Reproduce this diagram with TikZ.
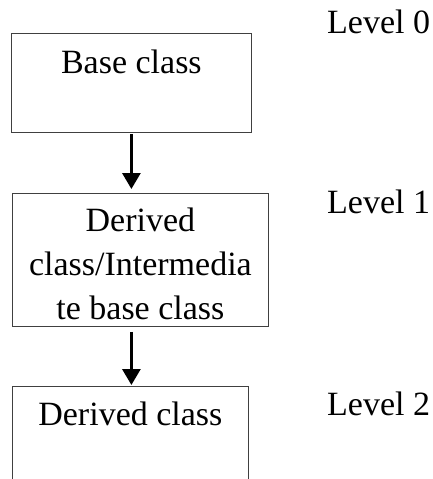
\documentclass[tikz,border=0pt]{standalone}
\usepackage{fontspec}
\setmainfont{Liberation Serif}
\usetikzlibrary{positioning,arrows.meta}
\definecolor{BoxEdge}{RGB}{64,64,64}
\tikzset{
  classbox/.style={draw=BoxEdge,line width=0.8pt,inner sep=0pt,anchor=north west,
    align=flush center,font=\fontsize{34}{44}\selectfont},
  levellabel/.style={inner sep=0pt,anchor=base west,font=\fontsize{34}{44}\selectfont},
  inherit/.style={-{Triangle[width=18pt,length=16pt]},line width=3pt}
}

\begin{document}
\begin{tikzpicture}[x=1pt,y=-1pt]
  \useasboundingbox (0,0) rectangle (433,479);
  \clip (0,0) rectangle (433,479);
  % class boxes
  \node[classbox,text width=240pt,text height=40pt,text depth=59pt] (base) at (11,33) {Base class};
  \node[classbox,text width=256pt,text height=38pt,text depth=95pt] (mid) at (12,193)
    {Derived\\class/Intermedia\\te base class};
  \node[classbox,text width=236pt,text height=39pt,text depth=110pt] (leaf) at (12,386) {Derived class};
  % levels
  \node[levellabel] (level0) at (327,33) {Level 0};
  \node[levellabel] (level1) at (327,213) {Level 1};
  \node[levellabel] (level2) at (327,415) {Level 2};
  \draw[inherit,shorten <=1pt,shorten >=4pt] (base.south) -- (base.south |- mid.north);
  \draw[inherit,shorten <=5pt,shorten >=1pt] (base.south |- mid.south) -- (base.south |- leaf.north);
\end{tikzpicture}
\end{document}
